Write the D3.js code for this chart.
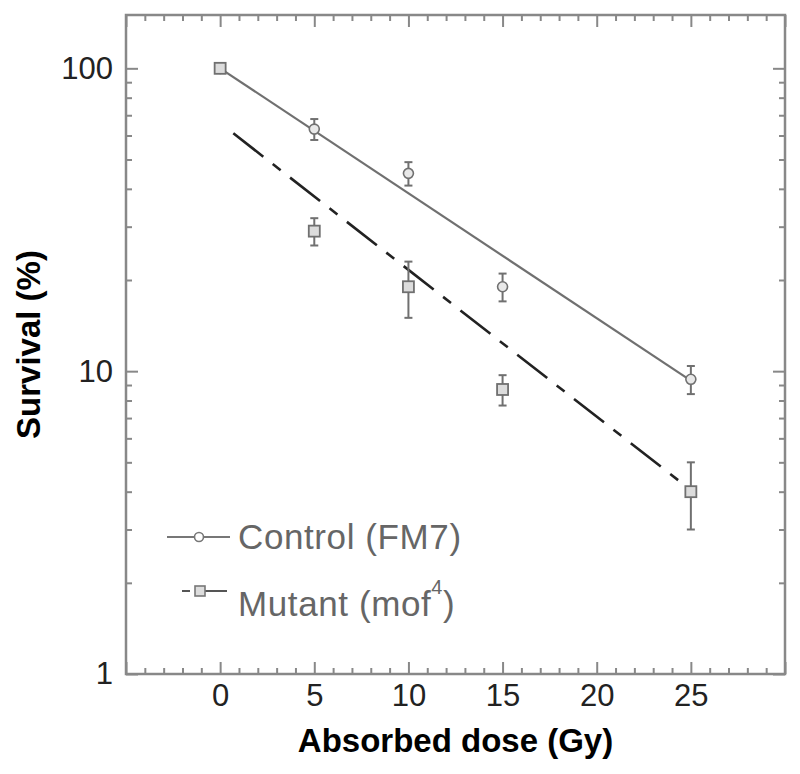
<!DOCTYPE html>
<html>
<head>
<meta charset="utf-8">
<script src="https://cdn.jsdelivr.net/npm/d3@7"></script>
<style>
  body { margin: 0; background: #fff; }
  svg { font-family: "Liberation Sans", Arial, sans-serif; }
</style>
</head>
<body>
<script>
// survival data
var doses = [0, 5, 10, 15, 25];
var controlSurvival = [100, 63, 45, 19, 9.4];
var controlErr = [0, 5, 4, 2, 1];
var mutantSurvival = [100, 29, 19, 8.7, 4.0];
var mutantErr = [0, 3, 4, 1, 1];
// exponential fits (straight on log axis), endpoints
var controlFit = [[0, 100], [25, 9.3]];
var mutantFit = [[0.7, 61], [25, 4.05]];
var xTicks = [0, 5, 10, 15, 20, 25];
var yTicks = [1, 10, 100];

var w = 800, h = 774;
var pL = 126, pR = 785, pT = 15, pB = 674;

var svg = d3.select("body").append("svg")
    .attr("width", w)
    .attr("height", h);

var x = d3.scaleLinear().domain([-5, 30]).range([pL, pR]);
var y = d3.scaleLog().domain([1, 150]).range([pB, pT]);

var xMinor = d3.range(-5, 31, 1).filter(function (d) { return d % 5 !== 0; });
var xMajor = d3.range(-5, 31, 5);
var yMinor = [];
[1, 10].forEach(function (b) { for (var i = 2; i <= 9; i++) yMinor.push(b * i); });

var axisColor = "#888";

function styleAxis(g) {
    g.select(".domain").remove();
    g.selectAll(".tick line").attr("stroke", axisColor).attr("stroke-width", 2);
    g.selectAll(".tick text").attr("fill", "#222").style("font-size", "31px");
}

// bottom
svg.append("g").attr("transform", "translate(0," + pB + ")")
    .call(d3.axisBottom(x).tickValues(xMinor).tickSize(-6).tickFormat(""))
    .call(styleAxis);
svg.append("g").attr("transform", "translate(0," + pB + ")")
    .call(d3.axisBottom(x).tickValues(xMajor).tickSize(-12).tickFormat(""))
    .call(styleAxis);
svg.append("g").attr("transform", "translate(0," + pB + ")")
    .call(d3.axisBottom(x).tickValues(xTicks).tickSize(0).tickPadding(10).tickFormat(d3.format("d")))
    .call(styleAxis);
// top
svg.append("g").attr("transform", "translate(0," + pT + ")")
    .call(d3.axisTop(x).tickValues(xMinor).tickSize(-6).tickFormat(""))
    .call(styleAxis);
svg.append("g").attr("transform", "translate(0," + pT + ")")
    .call(d3.axisTop(x).tickValues(xMajor).tickSize(-12).tickFormat(""))
    .call(styleAxis);
// left
svg.append("g").attr("transform", "translate(" + pL + ",0)")
    .call(d3.axisLeft(y).tickValues(yMinor).tickSize(-6).tickFormat(""))
    .call(styleAxis);
svg.append("g").attr("transform", "translate(" + pL + ",0)")
    .call(d3.axisLeft(y).tickValues(yTicks).tickSize(-12).tickPadding(13).tickFormat(d3.format("d")))
    .call(styleAxis);
// right
svg.append("g").attr("transform", "translate(" + pR + ",0)")
    .call(d3.axisRight(y).tickValues(yMinor).tickSize(-6).tickFormat(""))
    .call(styleAxis);
svg.append("g").attr("transform", "translate(" + pR + ",0)")
    .call(d3.axisRight(y).tickValues(yTicks).tickSize(-12).tickFormat(""))
    .call(styleAxis);

svg.append("rect")
    .attr("x", pL).attr("y", pT)
    .attr("width", pR - pL).attr("height", pB - pT)
    .attr("fill", "none").attr("stroke", axisColor).attr("stroke-width", 2.5);

// axis titles
svg.append("text")
    .attr("x", (pL + pR) / 2).attr("y", 752)
    .attr("text-anchor", "middle")
    .style("font-size", "33px").style("font-weight", "bold")
    .text("Absorbed dose (Gy)");
svg.append("text")
    .attr("transform", "translate(40," + (pT + pB) / 2 + ") rotate(-90)")
    .attr("text-anchor", "middle")
    .style("font-size", "33px").style("font-weight", "bold")
    .text("Survival (%)");

var line = d3.line()
    .x(function (d) { return x(d[0]); })
    .y(function (d) { return y(d[1]); });

// fit lines
svg.append("path").datum(controlFit)
    .attr("d", line).attr("fill", "none")
    .attr("stroke", "#707070").attr("stroke-width", 2.2);
svg.append("path").datum(mutantFit)
    .attr("d", line).attr("fill", "none")
    .attr("stroke", "#222").attr("stroke-width", 2.6)
    .attr("stroke-dasharray", "38,12,10,12");

var markColor = "#707070";

function errorBars(vals, errs) {
    var g = svg.append("g").attr("stroke", markColor).attr("stroke-width", 2);
    doses.forEach(function (d, i) {
        if (!errs[i]) return;
        var cx = x(d), y1 = y(vals[i] + errs[i]), y2 = y(vals[i] - errs[i]);
        g.append("line").attr("x1", cx).attr("x2", cx).attr("y1", y1).attr("y2", y2);
        g.append("line").attr("x1", cx - 4).attr("x2", cx + 4).attr("y1", y1).attr("y2", y1);
        g.append("line").attr("x1", cx - 4).attr("x2", cx + 4).attr("y1", y2).attr("y2", y2);
    });
}
errorBars(controlSurvival, controlErr);
errorBars(mutantSurvival, mutantErr);

svg.selectAll("circle.ctrl")
    .data(doses)
    .enter()
    .append("circle")
    .attr("class", "ctrl")
    .attr("cx", function (d) { return x(d); })
    .attr("cy", function (d, i) { return y(controlSurvival[i]); })
    .attr("r", 5)
    .attr("fill", "#e8e8e8")
    .attr("stroke", markColor).attr("stroke-width", 1.6);

svg.selectAll("rect.mut")
    .data(doses)
    .enter()
    .append("rect")
    .attr("class", "mut")
    .attr("x", function (d) { return x(d) - 5.5; })
    .attr("y", function (d, i) { return y(mutantSurvival[i]) - 5.5; })
    .attr("width", 11).attr("height", 11)
    .attr("fill", "#dcdcdc")
    .attr("stroke", markColor).attr("stroke-width", 1.8);

// legend
var lg = svg.append("g");
lg.append("line").attr("x1", 167).attr("x2", 230).attr("y1", 537).attr("y2", 537)
    .attr("stroke", "#777").attr("stroke-width", 2);
lg.append("circle").attr("cx", 199).attr("cy", 537).attr("r", 4.5)
    .attr("fill", "#fff").attr("stroke", "#777").attr("stroke-width", 1.6);
lg.append("text").attr("x", 238).attr("y", 549)
    .attr("fill", "#666").style("font-size", "35px").style("letter-spacing", "0.6px")
    .text("Control (FM7)");

lg.append("line").attr("x1", 182).attr("x2", 190).attr("y1", 591).attr("y2", 591)
    .attr("stroke", "#555").attr("stroke-width", 2);
lg.append("line").attr("x1", 205).attr("x2", 227).attr("y1", 591).attr("y2", 591)
    .attr("stroke", "#555").attr("stroke-width", 2);
lg.append("rect").attr("x", 195).attr("y", 586).attr("width", 10).attr("height", 10)
    .attr("fill", "#ddd").attr("stroke", "#777").attr("stroke-width", 1.6);
var mt = lg.append("text").attr("x", 238).attr("y", 616)
    .attr("fill", "#666").style("font-size", "35px").style("letter-spacing", "0.6px");
mt.append("tspan").text("Mutant (mof");
mt.append("tspan").attr("dy", -22).style("font-size", "20px").text("4");
mt.append("tspan").attr("dy", 22).text(")");
</script>
</body>
</html>
